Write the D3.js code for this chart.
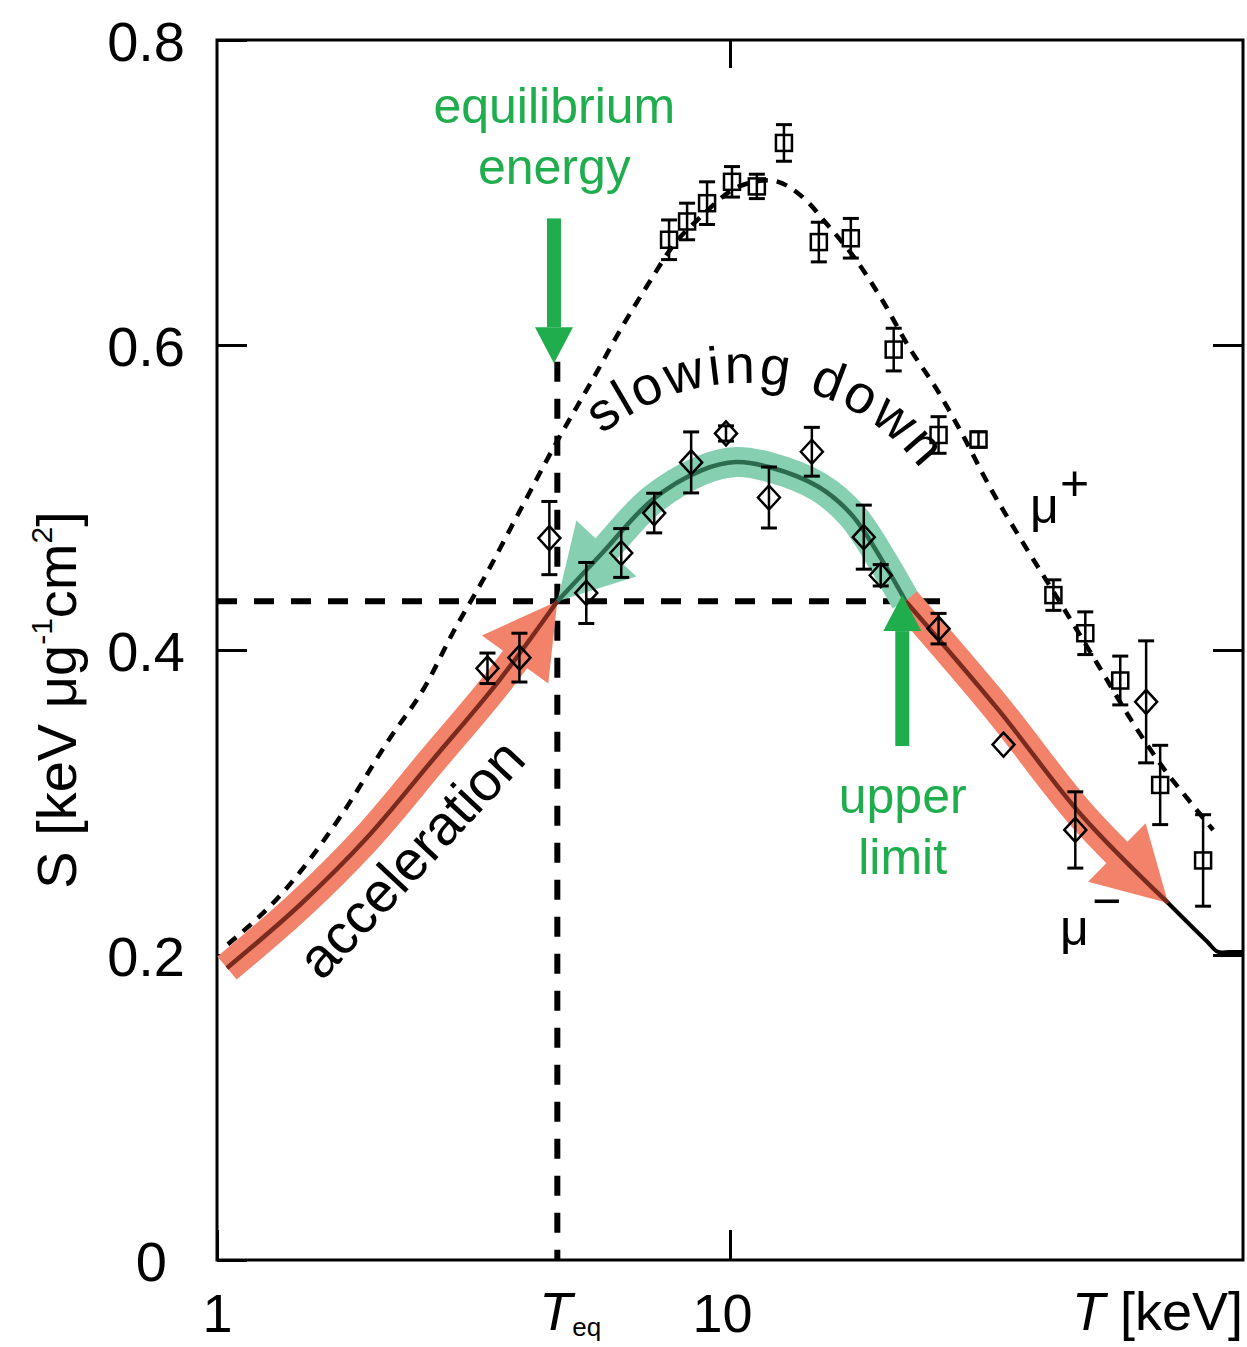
<!DOCTYPE html>
<html>
<head>
<meta charset="utf-8">
<script src="https://cdn.jsdelivr.net/npm/d3@7"></script>
<style>
  body { margin: 0; background: #fff; }
  svg { font-family: "Liberation Sans", Arial, sans-serif; }
</style>
</head>
<body>
<svg id="chart"></svg>
<script>
// ---- data ----
// mu+ dashed curve
var muPlusT = [1.05, 1.344, 1.758, 2.142, 2.563, 2.879, 3.352, 3.834, 4.587, 5.39, 6.165, 6.958, 7.78, 8.705, 10.41, 11.9, 14.06, 15.38, 17.59, 19.76, 22.29, 25.5, 27.9, 32.33, 36.99, 43.66, 52.23, 60.55, 70.5, 78.16, 87.43]
var muPlusS = [0.207, 0.241, 0.293, 0.339, 0.378, 0.411, 0.450, 0.487, 0.536, 0.577, 0.612, 0.641, 0.666, 0.683, 0.704, 0.708, 0.695, 0.680, 0.656, 0.630, 0.599, 0.569, 0.546, 0.505, 0.472, 0.433, 0.390, 0.354, 0.321, 0.302, 0.282]

// mu- solid curve
var muMinusT = [1.046, 1.45, 1.958, 2.632, 3.553, 4.607, 5.636, 7.052, 8.822, 10.27, 11.91, 14.9, 17.28, 19.94, 22.0, 33.37, 48.4, 71.46, 85.0, 89.43, 94.0, 100]
var muMinusS = [0.1915, 0.2328, 0.2767, 0.3279, 0.3803, 0.432, 0.4636, 0.4984, 0.518, 0.5233, 0.520, 0.5069, 0.4885, 0.457, 0.432, 0.3607, 0.2918, 0.2341, 0.209, 0.202, 0.202, 0.202]

// mu+ measurements (squares)
var sqT = [7.607, 8.248, 9.022, 10.09, 11.28, 12.74, 14.90, 17.20, 20.85, 25.50, 30.51, 42.70, 49.27, 57.64, 68.95, 83.60]
var sqS = [0.669, 0.681, 0.693, 0.707, 0.704, 0.7325, 0.6675, 0.670, 0.597, 0.541, 0.538, 0.436, 0.411, 0.380, 0.3115, 0.262]
var sqErr = [0.013, 0.012, 0.014, 0.010, 0.008, 0.012, 0.013, 0.013, 0.014, 0.012, 0.005, 0.010, 0.014, 0.016, 0.026, 0.030]

// mu- measurements (diamonds)
var dmT = [3.367, 3.886, 4.445, 5.246, 6.137, 7.116, 8.400, 9.822, 11.91, 14.44, 18.23, 19.67, 25.50, 34.13, 47.11, 64.74]
var dmS = [0.388, 0.395, 0.4734, 0.4374, 0.4636, 0.4898, 0.523, 0.542, 0.500, 0.530, 0.474, 0.449, 0.414, 0.338, 0.282, 0.366]
var dmErr = [0.010, 0.016, 0.024, 0.020, 0.016, 0.013, 0.020, 0.005, 0.020, 0.016, 0.021, 0.007, 0.010, 0.000, 0.025, 0.040]

// equilibrium / limits
var Teq = 4.607, Seq = 0.432, Tup = 22.0, TaccEnd = 71.46
var yTicks = [0, 0.2, 0.4, 0.6, 0.8]
var yTickLabels = ["0", "0.2", "0.4", "0.6", "0.8"]
var xTicks = [1, 10]

var width = 1247,
  height = 1347

var svg = d3.select("#chart")
  .attr("width", width)
  .attr("height", height)

var x = d3.scaleLog().domain([1, 100]).range([217, 1243])
var y = d3.scaleLinear().domain([0, 0.8]).range([1260, 40])

var zip = function (ts, ss) {
  return ts.map(function (t, i) { return [t, ss[i]] })
}
var muPlus = zip(muPlusT, muPlusS)
var muMinus = zip(muMinusT, muMinusS)

var line = d3.line()
  .x(function (d) { return x(d[0]) })
  .y(function (d) { return y(d[1]) })
  .curve(d3.curveMonotoneX)

var smooth = d3.line()
  .x(function (d) { return x(d[0]) })
  .y(function (d) { return y(d[1]) })
  .curve(d3.curveCatmullRom.alpha(0.5))

/*
 * Axes
 */
var yAxis = svg.append("g")
  .attr("transform", "translate(217,0)")
  .call(d3.axisLeft(y).tickValues(yTicks).tickSize(-30).tickPadding(32)
    .tickFormat(function (d, i) { return yTickLabels[i] }))
yAxis.select(".domain").remove()
yAxis.selectAll("line").attr("stroke-width", 3)
yAxis.selectAll("text")
  .attr("font-size", 56)
  .attr("font-family", "Liberation Sans, Arial, sans-serif")
  .attr("fill", "#000")
  .attr("dy", "0.36em")
  .attr("x", function (d) { return d === 0 ? -50 : -32 })

var yAxisR = svg.append("g")
  .attr("transform", "translate(1243,0)")
  .call(d3.axisRight(y).tickValues([0.2, 0.4, 0.6]).tickSize(-30).tickFormat(""))
yAxisR.select(".domain").remove()
yAxisR.selectAll("line").attr("stroke-width", 3)

var xAxis = svg.append("g")
  .attr("transform", "translate(0,1260)")
  .call(d3.axisBottom(x).tickValues(xTicks).tickSize(-30).tickPadding(34)
    .tickFormat(function (d) { return String(d) }))
xAxis.select(".domain").remove()
xAxis.selectAll("line").attr("stroke-width", 3)
xAxis.selectAll("text")
  .attr("font-size", 54)
  .attr("font-family", "Liberation Sans, Arial, sans-serif")
  .attr("fill", "#000")
  .attr("x", function (d) { return d === 10 ? -8 : 0 })

var xAxisT = svg.append("g")
  .attr("transform", "translate(0,40)")
  .call(d3.axisTop(x).tickValues([10]).tickSize(-28).tickFormat(""))
xAxisT.select(".domain").remove()
xAxisT.selectAll("line").attr("stroke-width", 3)

// frame
svg.append("rect")
  .attr("x", x(1)).attr("y", y(0.8))
  .attr("width", x(100) - x(1)).attr("height", y(0) - y(0.8))
  .attr("fill", "none").attr("stroke", "#000").attr("stroke-width", 3)

// axis titles
var yl = svg.append("text")
  .attr("transform", "translate(76," + 700 + ") rotate(-90)")
  .attr("text-anchor", "middle")
  .attr("font-size", 56)
yl.append("tspan").text("S [keV μg")
yl.append("tspan").attr("font-size", 30).attr("dy", -24).text("-1")
yl.append("tspan").attr("dy", 24).text("cm")
yl.append("tspan").attr("font-size", 30).attr("dy", -24).text("2")
yl.append("tspan").attr("dy", 24).text("]")

var teq = svg.append("text")
  .attr("x", x(Teq) - 18).attr("y", 1330)
  .attr("font-size", 54)
teq.append("tspan").attr("font-style", "italic").text("T")
teq.append("tspan").attr("font-size", 26).attr("dy", 6).text("eq")

var tl = svg.append("text")
  .attr("x", 1243).attr("y", 1330)
  .attr("text-anchor", "end")
  .attr("font-size", 54)
tl.append("tspan").attr("font-style", "italic").text("T")
tl.append("tspan").text(" [keV]")

/*
 * Reference dashed lines
 */
svg.append("line")
  .attr("x1", x(1)).attr("x2", x(26))
  .attr("y1", y(Seq)).attr("y2", y(Seq))
  .attr("stroke", "#000").attr("stroke-width", 6)
  .attr("stroke-dasharray", "20,17")

svg.append("line")
  .attr("x1", x(Teq)).attr("x2", x(Teq))
  .attr("y1", y(0.589)).attr("y2", y(0))
  .attr("stroke", "#000").attr("stroke-width", 6)
  .attr("stroke-dasharray", "20,17")

/*
 * Curves
 */
svg.append("path")
  .attr("d", line(muPlus))
  .attr("fill", "none").attr("stroke", "#000").attr("stroke-width", 4.5)
  .attr("stroke-dasharray", "11,9")

svg.append("path")
  .attr("d", smooth(muMinus))
  .attr("fill", "none").attr("stroke", "#000").attr("stroke-width", 4)

/*
 * Colored arrows along the mu- curve
 */
function segment(t0, t1) {
  return muMinus.filter(function (d) { return d[0] >= t0 - 1e-6 && d[0] <= t1 + 1e-6 })
}

function drawArrow(data, color, dark, headAt) {
  var headLen = 72, headW = 82, bodyW = 30
  var g = svg.append("g")
  var p = g.append("path")
    .attr("d", smooth(data))
    .attr("fill", "none").attr("stroke", color).attr("stroke-width", bodyW)
  var node = p.node()
  var L = node.getTotalLength()
  var tip, base
  if (headAt === "end") {
    tip = node.getPointAtLength(L)
    base = node.getPointAtLength(L - headLen)
    p.attr("stroke-dasharray", (L - headLen + 2) + " " + L)
  } else {
    tip = node.getPointAtLength(0)
    base = node.getPointAtLength(headLen)
    p.attr("stroke-dasharray", "0 " + (headLen - 2) + " " + L)
  }
  var dx = tip.x - base.x, dy = tip.y - base.y
  var len = Math.sqrt(dx * dx + dy * dy)
  var px = -dy / len, py = dx / len
  var pts = [
    [tip.x, tip.y],
    [base.x + px * headW / 2, base.y + py * headW / 2],
    [base.x - px * headW / 2, base.y - py * headW / 2]
  ]
  g.append("polygon")
    .attr("points", pts.map(function (q) { return q.join(",") }).join(" "))
    .attr("fill", color)
  g.append("path")
    .attr("d", smooth(data))
    .attr("fill", "none").attr("stroke", dark).attr("stroke-width", 4.5)
}

drawArrow(segment(1, Teq), "#f2836a", "#7a2a1e", "end")
drawArrow(segment(Teq, Tup), "#86d0b1", "#2d6b4f", "start")
drawArrow(segment(Tup, TaccEnd), "#f2836a", "#7a2a1e", "end")

/*
 * Data points
 */
var squares = sqT.map(function (t, i) { return { t: t, s: sqS[i], e: sqErr[i] } })
var diamonds = dmT.map(function (t, i) { return { t: t, s: dmS[i], e: dmErr[i] } })

function errorBars(data) {
  var g = svg.append("g")
  g.selectAll("line.bar")
    .data(data.filter(function (d) { return d.e > 0 }))
    .enter()
    .append("line")
    .attr("class", "bar")
    .attr("x1", function (d) { return x(d.t) })
    .attr("x2", function (d) { return x(d.t) })
    .attr("y1", function (d) { return y(d.s + d.e) })
    .attr("y2", function (d) { return y(d.s - d.e) })
    .attr("stroke", "#000").attr("stroke-width", 2.5)
  ;[1, -1].forEach(function (sgn) {
    g.selectAll("line.cap" + sgn)
      .data(data.filter(function (d) { return d.e > 0 }))
      .enter()
      .append("line")
      .attr("x1", function (d) { return x(d.t) - 8 })
      .attr("x2", function (d) { return x(d.t) + 8 })
      .attr("y1", function (d) { return y(d.s + sgn * d.e) })
      .attr("y2", function (d) { return y(d.s + sgn * d.e) })
      .attr("stroke", "#000").attr("stroke-width", 3)
  })
}

errorBars(squares)
errorBars(diamonds)

svg.append("g").selectAll("rect")
  .data(squares)
  .enter()
  .append("rect")
  .attr("x", function (d) { return x(d.t) - 8 })
  .attr("y", function (d) { return y(d.s) - 8 })
  .attr("width", 16).attr("height", 16)
  .attr("fill", "none").attr("stroke", "#000").attr("stroke-width", 2.5)

svg.append("g").selectAll("path")
  .data(diamonds)
  .enter()
  .append("path")
  .attr("d", function (d) {
    var cx = x(d.t), cy = y(d.s)
    return "M" + (cx - 11) + "," + cy + "L" + cx + "," + (cy - 12) +
      "L" + (cx + 11) + "," + cy + "L" + cx + "," + (cy + 12) + "Z"
  })
  .attr("fill", "none").attr("stroke", "#000").attr("stroke-width", 2.5)

/*
 * Annotations
 */
var green = "#1fad4e"

function vArrow(t, s0, s1) {
  // shaft from s0 to the head base, tip at s1
  var cx = x(t), y0 = y(s0), y1 = y(s1)
  var dir = y1 > y0 ? 1 : -1
  var headL = 36, half = 19, shaft = 7
  var yb = y1 - dir * headL
  svg.append("rect")
    .attr("x", cx - shaft).attr("y", Math.min(y0, yb))
    .attr("width", shaft * 2).attr("height", Math.abs(yb - y0))
    .attr("fill", green)
  svg.append("polygon")
    .attr("points", [[cx, y1], [cx - half, yb], [cx + half, yb]].map(function (q) { return q.join(",") }).join(" "))
    .attr("fill", green)
}

vArrow(Teq * 0.985, 0.683, 0.588)
vArrow(Tup * 0.985, 0.337, 0.436)

svg.append("text")
  .attr("x", x(Teq) - 3).attr("y", 123)
  .attr("text-anchor", "middle").attr("font-size", 50).attr("fill", green)
  .text("equilibrium")
svg.append("text")
  .attr("x", x(Teq) - 3).attr("y", 184)
  .attr("text-anchor", "middle").attr("font-size", 50).attr("fill", green)
  .text("energy")
svg.append("text")
  .attr("x", x(Tup) - 3).attr("y", 813)
  .attr("text-anchor", "middle").attr("font-size", 50).attr("fill", green)
  .text("upper")
svg.append("text")
  .attr("x", x(Tup) - 3).attr("y", 874)
  .attr("text-anchor", "middle").attr("font-size", 50).attr("fill", green)
  .text("limit")

// "slowing down" along an arc
var cx0 = 745, cy0 = 605, R = 222
var a0 = -130 * Math.PI / 180, a1 = -34 * Math.PI / 180
svg.append("defs").append("path")
  .attr("id", "arc")
  .attr("d", "M" + (cx0 + R * Math.cos(a0)) + "," + (cy0 + R * Math.sin(a0)) +
    " A" + R + "," + R + " 0 0 1 " + (cx0 + R * Math.cos(a1)) + "," + (cy0 + R * Math.sin(a1)))
svg.append("text")
  .attr("font-size", 54)
  .attr("letter-spacing", 3)
  .append("textPath")
  .attr("href", "#arc")
  .text("slowing down")

svg.append("text")
  .attr("transform", "translate(322,982) rotate(-47)")
  .attr("font-size", 56)
  .text("acceleration")

// particle labels
svg.append("text").attr("x", 1030).attr("y", 523).attr("font-size", 50).text("μ")
svg.append("text").attr("x", 1060).attr("y", 500).attr("font-size", 50).text("+")
svg.append("text").attr("x", 1060).attr("y", 945).attr("font-size", 50).text("μ")
svg.append("text").attr("x", 1092).attr("y", 918).attr("font-size", 50).text("−")
</script>
</body>
</html>
